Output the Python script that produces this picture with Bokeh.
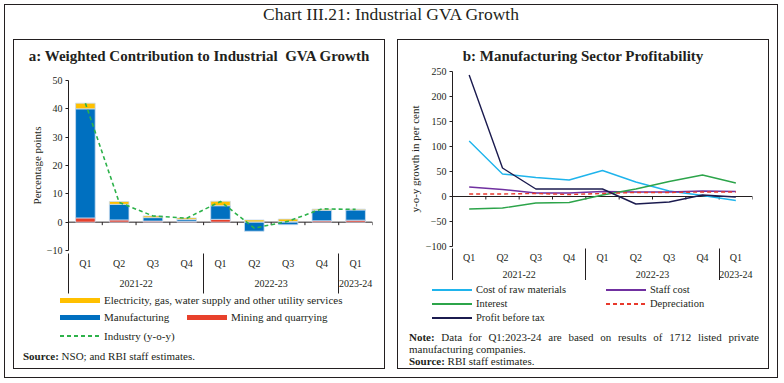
import numpy as np
from bokeh.plotting import figure
from bokeh.models import Range1d, LinearAxis, FixedTicker, Div, Spacer, Span
from bokeh.layouts import column, row
from bokeh.embed import file_html
from bokeh.resources import INLINE

# ---------------- data ----------------
years = ["2021-22"] * 4 + ["2022-23"] * 4 + ["2023-24"]
quarters = ["Q1", "Q2", "Q3", "Q4", "Q1", "Q2", "Q3", "Q4", "Q1"]

# panel a: weighted contribution (percentage points)
mining = [1.5, 0.8, 0.4, 0.3, 1.0, 0.1, 0.2, 0.5, 0.7]
manufacturing = [38.5, 5.5, 1.2, 0.6, 4.8, -3.2, -0.9, 3.7, 3.6]
electricity = [2.0, 1.0, 0.6, 0.6, 1.6, 0.7, 0.9, 0.4, 0.3]
industry = [42.0, 7.0, 2.2, 1.4, 7.3, -2.1, 0.3, 4.7, 4.5]

# panel b: y-o-y growth in per cent
raw_materials = [111, 45, 38, 33, 52, 29, 11, 2, -8]
staff_cost = [19, 14, 7, 7, 10, 9, 9, 11, 10]
interest = [-25, -23, -13, -12, 3, 15, 30, 43, 27]
depreciation = [5, 5, 6, 4, 6, 8, 8, 9, 9]
profit_before_tax = [243, 57, 15, 15, 15, -15, -11, 3, -1]

a_ticks = [-10, 0, 10, 20, 30, 40, 50]
b_ticks = [-100, -50, 0, 50, 100, 150, 200, 250]

N = len(quarters)
xs = np.arange(N) + 0.5                     # category centres
bounds_x = np.arange(N + 1)                 # category boundaries
group_names = list(dict.fromkeys(years))
group_starts = [years.index(g) for g in group_names]
group_centres = [years.index(g) + years.count(g) / 2 for g in group_names]

SERIF = "Liberation Serif"
TXT = "#231f20"

C_ELEC, C_MANU, C_MIN, C_IND = "#ffc000", "#0070c0", "#e8412c", "#2db24a"
C_RAW, C_STAFF, C_INT, C_DEP, C_PBT = "#1fb4ec", "#7030a0", "#2ca44a", "#e8392c", "#1b1b4f"


def make_fig(ticks, height, mbt, frame_h, mbb, mbl, mbr, ylabel, q_standoff, g_standoff,
             sep_in, sep_out, lab_standoff):
    p = figure(x_range=Range1d(0, N), y_range=Range1d(ticks[0], ticks[-1]), width=370,
               height=height, min_border_left=mbl, min_border_right=mbr, min_border_top=mbt,
               min_border_bottom=mbb, output_backend="svg", toolbar_location=None, margin=0,
               title=None)
    p.outline_line_color = None
    p.grid.visible = False

    # quarter labels
    xa = p.xaxis[0]
    xa.ticker = FixedTicker(ticks=list(xs))
    xa.major_label_overrides = {float(x): q for x, q in zip(xs, quarters)}
    xa.axis_line_color = None
    xa.major_tick_line_color = None
    xa.major_tick_in = 0
    xa.major_tick_out = 0
    xa.minor_tick_line_color = None
    xa.major_label_standoff = q_standoff
    xa.major_label_text_font = SERIF
    xa.major_label_text_font_size = "10px"
    xa.major_label_text_color = TXT

    # year (group) labels
    ga = LinearAxis(ticker=FixedTicker(ticks=group_centres),
                    major_label_overrides={float(c): g for c, g in zip(group_centres, group_names)},
                    axis_line_color=None, major_tick_line_color=None, major_tick_in=0,
                    major_tick_out=0, minor_tick_line_color=None, major_label_standoff=g_standoff,
                    major_label_text_font=SERIF, major_label_text_font_size="10px",
                    major_label_text_color=TXT)
    p.add_layout(ga, "below")

    # group separators: ticks of an unlabeled axis pointing back up to the frame
    sa = LinearAxis(ticker=FixedTicker(ticks=group_starts),
                    major_label_overrides={int(s): "" for s in group_starts},
                    axis_line_color=None, major_tick_line_color=TXT, major_tick_in=sep_in,
                    major_tick_out=sep_out, minor_tick_line_color=None, major_label_standoff=0,
                    major_label_text_font_size="1px")
    p.add_layout(sa, "below")

    ya = p.yaxis[0]
    ya.ticker = FixedTicker(ticks=ticks)
    ya.bounds = (ticks[0], ticks[-1])
    ya.major_tick_in = 0
    ya.major_tick_out = 3
    ya.minor_tick_line_color = None
    ya.axis_line_color = TXT
    ya.major_tick_line_color = TXT
    ya.major_label_standoff = 3
    ya.major_label_text_font = SERIF
    ya.major_label_text_font_size = "10px"
    ya.major_label_text_color = TXT
    ya.axis_label = ylabel
    ya.axis_label_standoff = lab_standoff
    ya.axis_label_text_font = SERIF
    ya.axis_label_text_font_size = "11px"
    ya.axis_label_text_font_style = "normal"
    ya.axis_label_text_color = TXT

    # zero line with small ticks at category boundaries
    zl = Span(location=0, dimension="width", line_color=TXT, line_width=1, level="underlay")
    p.add_layout(zl)
    tick_len = 3.0 * (ticks[-1] - ticks[0]) / frame_h
    p.segment(x0=bounds_x, y0=np.zeros(N + 1), x1=bounds_x, y1=np.full(N + 1, -tick_len),
              line_color=TXT, line_width=1)
    return p


def legend_div(height, font_size, entries):
    parts = [f'<div style="position:relative;width:370px;height:{height}px;'
             f"font-family:'{SERIF}';color:{TXT};font-size:{font_size};\">"]
    for label, swatch, sw_h, left, c in entries:
        parts.append(f'<div style="position:absolute;left:{left}px;top:{c - sw_h / 2:.1f}px;'
                     f'width:40px;height:{sw_h}px;background:{swatch};"></div>')
        parts.append(f'<div style="position:absolute;left:{left + 44}px;top:{c - 6}px;'
                     f'line-height:12px;white-space:nowrap;">{label}</div>')
    parts.append("</div>")
    return Div(text="".join(parts), width=370, height=height, margin=0)


def dashed(color):
    return f"repeating-linear-gradient(to right, {color} 0px, {color} 4px, transparent 4px, transparent 7px)"


# ---------------- panel a ----------------
pa = make_fig(a_ticks, 224, 10, 170, 44, 54, 12, "Percentage points", 7, 8, 36, 4, 1)

pos = np.zeros(N)
neg = np.zeros(N)
for vals, color in [(mining, C_MIN), (manufacturing, C_MANU), (electricity, C_ELEC)]:
    v = np.array(vals, dtype=float)
    bottom = np.where(v >= 0, pos, neg)
    top = bottom + v
    pos = np.where(v >= 0, top, pos)
    neg = np.where(v < 0, top, neg)
    pa.vbar(x=xs, bottom=bottom, top=top, width=0.58, fill_color=color,
            line_color="#c9dcf0", line_width=0.8)

pa.line(x=xs, y=industry, line_color=C_IND, line_dash="4 3", line_width=1.6)

la = legend_div(52, "11px", [
    ("Electricity, gas, water supply and other utility services", C_ELEC, 5, 46, 6),
    ("Manufacturing", C_MANU, 5, 46, 23),
    ("Mining and quarrying", C_MIN, 5, 173, 23),
    ("Industry (y-o-y)", dashed(C_IND), 1.6, 46, 42),
])

# ---------------- panel b ----------------
pb = make_fig(b_ticks, 216, 7, 175, 34, 54, 16, "y-o-y growth in per cent", 5, 5, 32, 0, 2)

for vals, color, dash in [(raw_materials, C_RAW, "solid"), (staff_cost, C_STAFF, "solid"),
                          (interest, C_INT, "solid"), (depreciation, C_DEP, "4 3"),
                          (profit_before_tax, C_PBT, "solid")]:
    pb.line(x=xs, y=vals, line_color=color, line_width=1.4, line_dash=dash)

lb = legend_div(48, "10.5px", [
    ("Cost of raw materials", C_RAW, 1.4, 34, 10),
    ("Staff cost", C_STAFF, 1.4, 208, 10),
    ("Interest", C_INT, 1.4, 34, 24),
    ("Depreciation", dashed(C_DEP), 1.4, 208, 24),
    ("Profit before tax", C_PBT, 1.4, 34, 38),
])

# ---------------- text blocks ----------------
BOX = "box-sizing:border-box;font-family:'Liberation Serif';color:#231f20;margin:0;"

title_div = Div(text=f'<div style="{BOX}width:772px;text-align:center;font-size:17.5px;'
                     'line-height:18px;padding-top:0px;">Chart III.21: Industrial GVA Growth</div>',
                width=772, height=35, margin=0)
ta = Div(text=f'<div style="{BOX}width:370px;text-align:center;font-size:15px;font-weight:bold;'
              'line-height:18px;padding-top:7px;">a: Weighted Contribution to Industrial&nbsp; GVA Growth</div>',
         width=370, height=30, margin=0)
sa_div = Div(text=f'<div style="{BOX}width:370px;font-size:11px;line-height:12px;padding:4px 0 0 9px;">'
                  '<b>Source:</b> NSO; and RBI staff estimates.</div>', width=370, height=22, margin=0)
tb = Div(text=f'<div style="{BOX}width:370px;text-align:center;font-size:15px;font-weight:bold;'
              'line-height:18px;padding-top:7px;">b: Manufacturing Sector Profitability</div>',
         width=370, height=24, margin=0)
nb = Div(text=f'<div style="{BOX}width:370px;font-size:11px;line-height:12px;padding:3px 9px 0 11px;">'
              '<div style="text-align:justify;"><b>Note:</b> Data for Q1:2023-24 are based on results of '
              '1712 listed private manufacturing companies.</div>'
              '<div><b>Source:</b> RBI staff estimates.</div></div>', width=370, height=40, margin=0)

OUT = {"outline": "1px solid #231f20"}
panel_a = column(ta, pa, la, sa_div, spacing=0, margin=0, styles=OUT)
panel_b = column(tb, pb, lb, nb, spacing=0, margin=0, styles=OUT)

body = row(Spacer(width=9, margin=0), panel_a, Spacer(width=14, margin=0), panel_b,
           Spacer(width=9, margin=0), spacing=0, margin=0)
root = column(title_div, body, Spacer(height=9, margin=0), spacing=0, margin=0,
              styles={"outline": "1px solid #231f20", "position": "absolute",
                      "left": "5px", "top": "5px"})

open("out.html", "w").write(file_html(root, INLINE))
